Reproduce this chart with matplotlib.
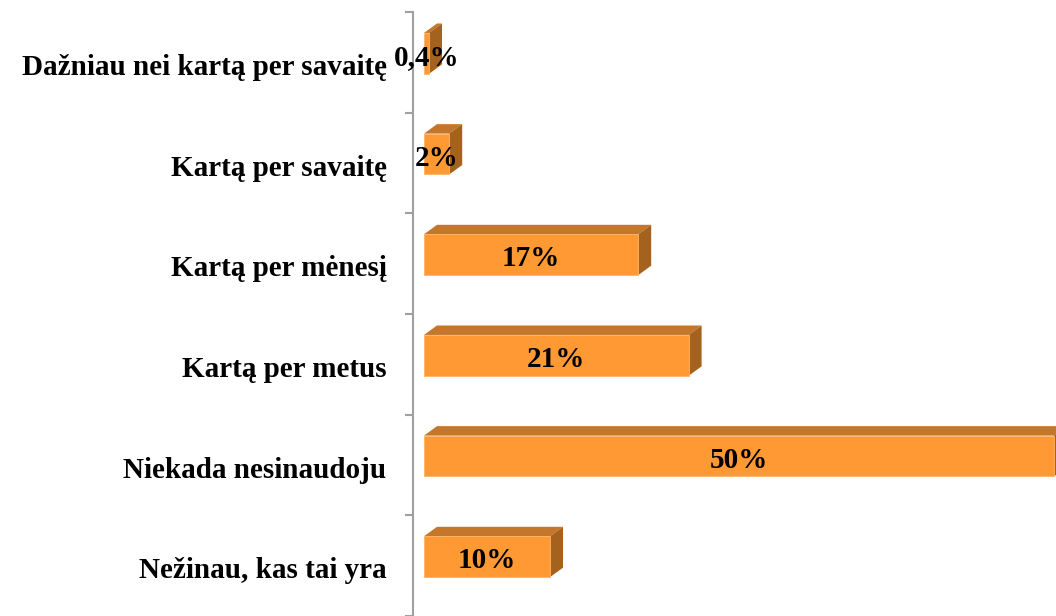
import matplotlib.pyplot as plt
from matplotlib.patches import Polygon

# survey answers, top to bottom
categories = [
    "Dažniau nei kartą per savaitę",
    "Kartą per savaitę",
    "Kartą per mėnesį",
    "Kartą per metus",
    "Niekada nesinaudoju",
    "Nežinau, kas tai yra",
]
shares = [0.4, 2, 17, 21, 50, 10]

FRONT = "#FF9933"
TOP = "#C4762A"
SIDE = "#A5621F"

fig = plt.figure(figsize=(10.56, 6.16), dpi=100)
ax = fig.add_axes([413 / 1056, 0, 1 - 413 / 1056, 604 / 616])
px = 12.6  # pixels per percent
ax.set_xlim(-11 / px, (1056 - 424) / px)
ax.set_ylim(5.98, 0)

# fake 3d depth (data units)
dx = 13 / px
dy = 0.094
y0 = 0.208
h = 0.406

for i, v in enumerate(shares):
    top = i + y0
    ax.barh(top + h / 2, v, height=h, left=0, color=FRONT,
            edgecolor="#FFB366", linewidth=0.6, zorder=3)
    ax.add_patch(Polygon([(0, top), (v, top), (v + dx, top - dy), (dx, top - dy)],
                         closed=True, facecolor=TOP, edgecolor="none", zorder=2))
    ax.add_patch(Polygon([(v, top), (v + dx, top - dy), (v + dx, top + h - dy), (v, top + h)],
                         closed=True, facecolor=SIDE, edgecolor="none", zorder=2))
    label = f"{v:g}%".replace(".", ",")
    ax.text(v / 2, top + h / 2 + 0.04, label, ha="center", va="center",
            fontsize=21, fontweight="bold", family="Liberation Serif", zorder=5)

# category labels at band centres, tick marks at band edges
ax.set_yticks([i + 0.52 for i in range(len(categories))])
ax.set_yticklabels(categories, fontsize=21, fontweight="bold", family="Liberation Serif")
ax.tick_params(axis="y", which="major", length=0, pad=19)
ax.set_yticks(range(len(categories) + 1), minor=True)
ax.tick_params(axis="y", which="minor", length=6, width=1.5, color="#A0A0A0")
ax.set_xticks([])

for s in ["top", "right", "bottom"]:
    ax.spines[s].set_visible(False)
ax.spines["left"].set_color("#A0A0A0")
ax.spines["left"].set_linewidth(1.5)

fig.savefig("out.png", dpi=100)
